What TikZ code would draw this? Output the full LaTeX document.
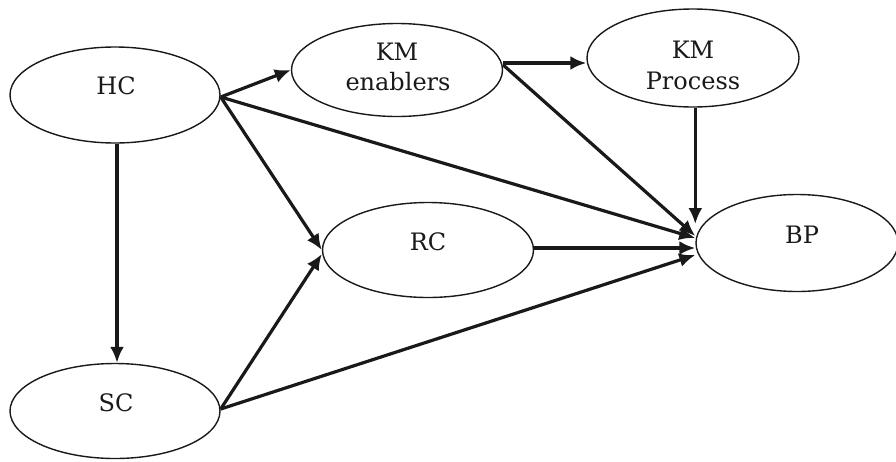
\documentclass[tikz,border=0pt]{standalone}
\usepackage{fontspec}
\setmainfont{DejaVu Serif}
\usetikzlibrary{shapes.geometric,arrows.meta}
\begin{document}
\begin{tikzpicture}[x=1pt,y=-1pt,
  oval/.style={draw=black!90,line width=1.4pt,ellipse,inner sep=0pt},
  lbl/.style={anchor=base,inner sep=0pt,font=\fontsize{24}{29}\selectfont,text=black!90},
  arr/.style={draw=black!90,line width=3.2pt,-{Latex[length=16pt,width=14pt]}}]
\useasboundingbox (0,0) rectangle (896,461);
\node[oval,minimum width=210pt,minimum height=96pt] (HC) at (115,95) {};
\node[oval,minimum width=211pt,minimum height=93pt] (KMe) at (397,70) {};
\node[oval,minimum width=212pt,minimum height=98pt] (KMp) at (693,58) {};
\node[oval,minimum width=211pt,minimum height=95pt] (RC) at (428,250) {};
\node[oval,minimum width=202pt,minimum height=97pt] (BP) at (797,243) {};
\node[oval,minimum width=210pt,minimum height=95pt] (SC) at (115,411) {};
\node[lbl] (tHC) at (116,94) {HC};
\node[lbl] (tKMe1) at (397,60) {KM};
\node[lbl] (tKMe2) at (398,90) {enablers};
\node[lbl] (tKMp1) at (693,58) {KM};
\node[lbl] (tKMp2) at (693,89) {Process};
\node[lbl] (tRC) at (428,250) {RC};
\node[lbl] (tBP) at (802,243) {BP};
\node[lbl] (tSC) at (116,411) {SC};
\draw[arr] ([yshift=-2pt]HC.east) -- (KMe.west);
\draw[arr] ([yshift=-2pt]HC.east) -- ([yshift=5pt]BP.west);
\draw[arr] ([yshift=-2pt]HC.east) -- (RC.west);
\draw[arr] ([xshift=2pt]HC.south) -- ([xshift=2pt]SC.north);
\draw[arr] ([yshift=2pt]SC.east) -- ([yshift=-4pt]RC.west);
\draw[arr] ([yshift=2pt]SC.east) -- ([yshift=-12pt]BP.west);
\draw[arr] ([yshift=2pt]RC.east) -- ([yshift=-5pt]BP.west);
\draw[arr] ([yshift=5pt]KMe.east) -- ([yshift=7pt]BP.west);
\draw[arr] ([yshift=7pt]KMe.east) -- ([yshift=-5pt]KMp.west);
\draw[arr] (KMp.south -| BP.west) -- ([yshift=19pt]BP.west);
\end{tikzpicture}
\end{document}
